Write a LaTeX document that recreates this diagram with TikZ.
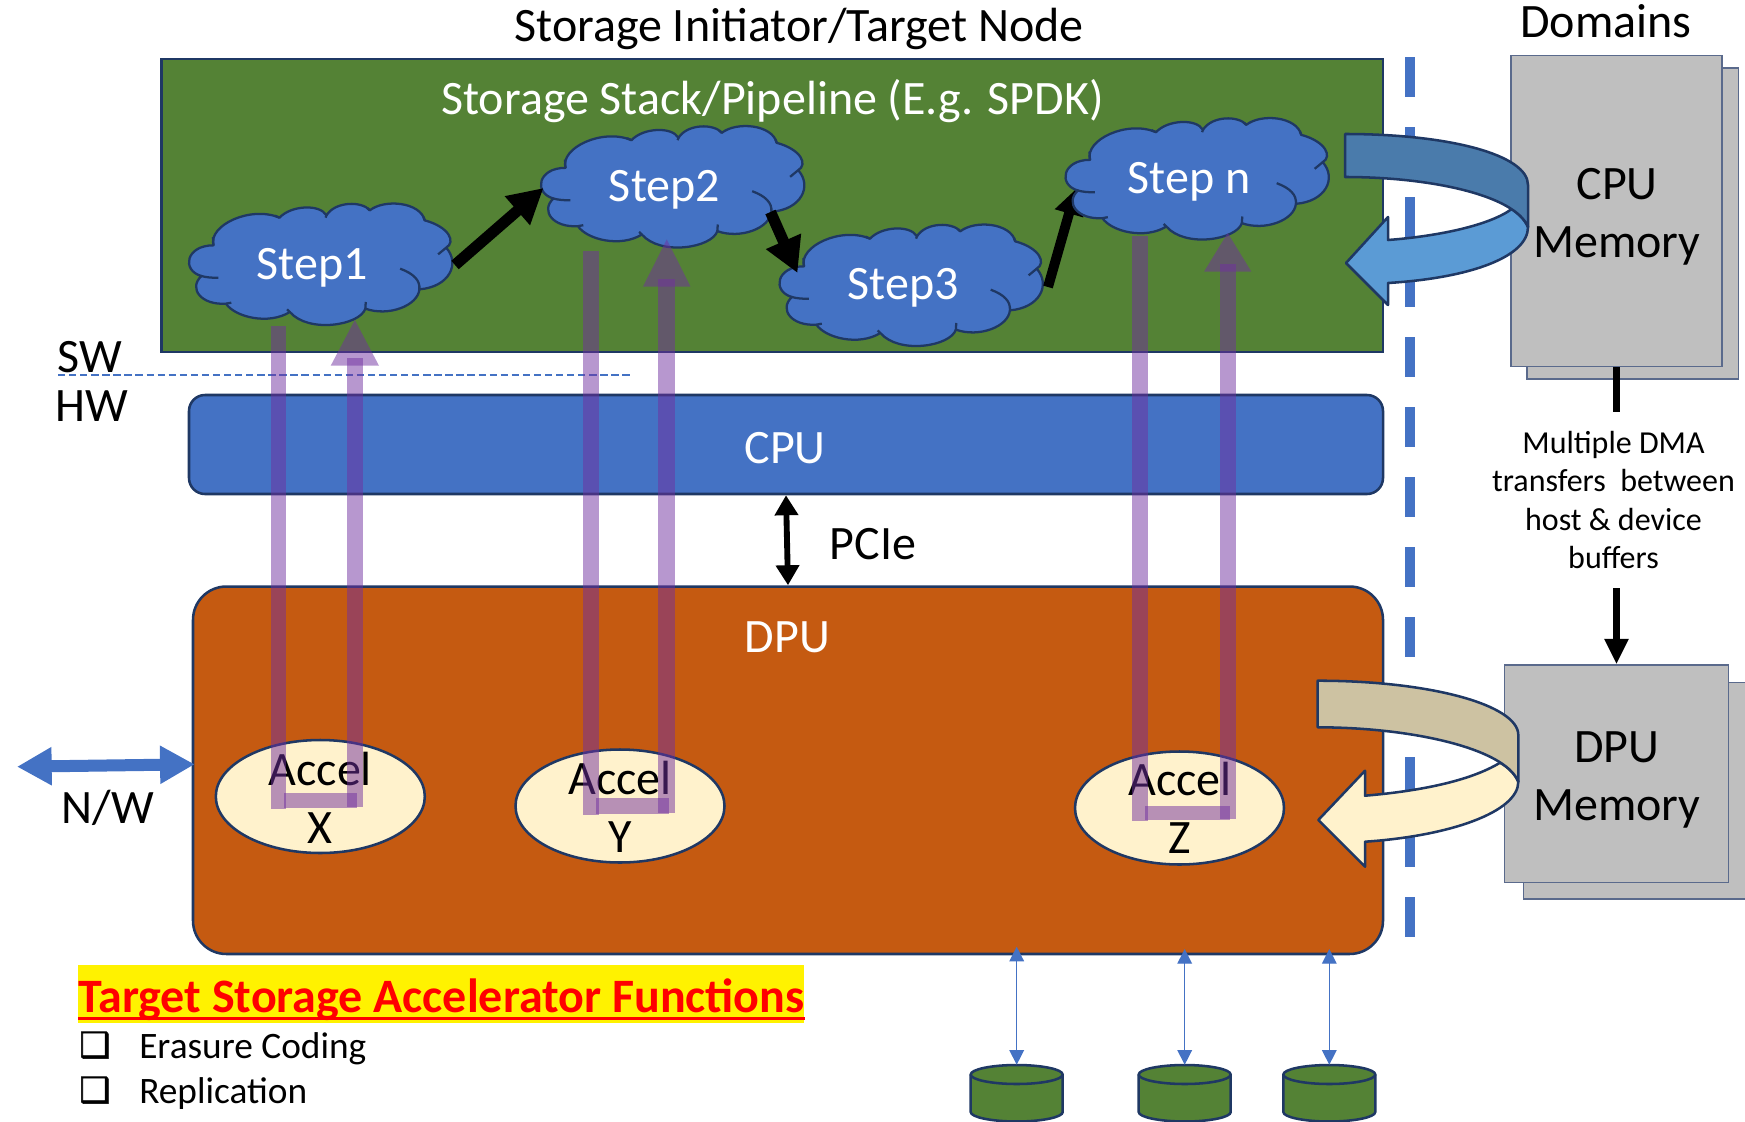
\documentclass[tikz,border=0pt]{standalone}
\usepackage{fontspec}
\setmainfont{Carlito}
\newfontfamily\symfont[FakeBold=1.6]{DejaVu Sans}
\usetikzlibrary{arrows.meta,calc,shapes.geometric}
\definecolor{navy}{HTML}{1F3864}
\definecolor{leaf}{HTML}{548235}
\definecolor{azure}{HTML}{4472C4}
\definecolor{rust}{HTML}{C55A11}
\definecolor{silver}{HTML}{BFBFBF}
\definecolor{cream}{HTML}{FFF2CC}
\definecolor{sand}{HTML}{CDC2A2}
\definecolor{steel}{HTML}{4A7BAB}
\definecolor{sky}{HTML}{5B9BD5}
\definecolor{plum}{HTML}{7030A0}
\definecolor{memline}{HTML}{5A6A8C}
\tikzset{
  big/.style={font=\fontsize{36}{43.5}\selectfont},
  small/.style={font=\fontsize{24}{28.8}\selectfont},
  list/.style={font=\fontsize{28}{34}\selectfont},
  panel/.style={draw=navy,line width=1.9pt},
  memfront/.style={draw=memline,fill=silver,line width=1.1pt},
  band/.style={draw=navy,line width=1.9pt,line join=round},
  pipe/.style={fill=plum,opacity=.5},
  flow/.style={line width=8.4pt,-{Triangle[length=26pt,width=27pt]}},
  flowthin/.style={line width=7.4pt,-{Triangle[length=19pt,width=21pt]}},
  disklink/.style={draw=azure,line width=1pt,{Triangle[length=11pt,width=11pt]}-{Triangle[length=11pt,width=11pt]}},
  plabel/.style={inner sep=0pt,align=center},
  accel/.style={ellipse,draw=navy,fill=cream,line width=1.9pt,minimum width=156.75pt,minimum height=84.75pt,inner sep=0pt},
}
\newcommand{\cloudat}[6]{% name, centre x, centre y, text x, text y, label
  \begin{scope}[shift={(#2,#3)},xscale=.4467,yscale=.3333,shift={(-340,-464)}]
    \draw[fill=azure,draw=navy,line width=1.7pt,line join=round]
      (97,405) .. controls (85,345) and (180,285) .. (245,322)
      .. controls (270,285) and (335,280) .. (350,315)
      .. controls (370,272) and (430,272) .. (447,300)
      .. controls (480,265) and (560,275) .. (570,330)
      .. controls (625,350) and (640,395) .. (618,412)
      .. controls (650,460) and (625,530) .. (558,537)
      .. controls (555,585) and (490,620) .. (437,595)
      .. controls (425,645) and (310,670) .. (268,605)
      .. controls (220,645) and (145,620) .. (125,580)
      .. controls (70,585) and (40,535) .. (70,497)
      .. controls (25,480) and (35,405) .. (97,405) -- cycle;
    \draw[navy,line width=1.7pt]
      (70,497) .. controls (80,501) and (95,503) .. (108,502)
      (125,580) -- (137,577)
      (268,605) -- (262,597)
      (437,595) -- (438,575)
      (515,475) .. controls (545,490) and (560,510) .. (558,537)
      (600,432) -- (618,412)
      (570,330) -- (567,320)
      (447,300) -- (442,293)
      (350,315) -- (348,322)
      (245,322) -- (235,316)
      (97,405) -- (96,380);
  \end{scope}
  \node[big,text=white,plabel] (#1) at (#4,#5) {#6};
}
\newcommand{\uarrow}[9]{%
  \fill[pipe] (#1,#3) rectangle (#2,\ubarL);
  \fill[pipe] (#4,#6) rectangle (#5,\ubarR);
  \fill[pipe] ({#1+13},\ubandT) rectangle ({#5-6},\ubandB);
  \fill[pipe] (#7,\uhead) -- (#8,\uhead) -- ({(#7+#8)/2},#9) -- cycle;
}
\newcommand{\disk}[2]{%
  \node[inner sep=0pt,minimum size=0pt] (#1) at (#2,1065) {};
  \begin{scope}[shift={(#2,1074.5)}]
    \draw[fill=leaf,draw=navy,line width=1.9pt]
      (-46,0) -- (-46,37.5) .. controls (-46,42.7) and (-25,47) .. (0,47)
      .. controls (25,47) and (46,42.7) .. (46,37.5) -- (46,0)
      .. controls (46,-5.2) and (25,-9.5) .. (0,-9.5)
      .. controls (-25,-9.5) and (-46,-5.2) .. (-46,0) -- cycle;
    \draw[navy,line width=1.9pt] (-46,0) .. controls (-46,5.2) and (-25,9.5) .. (0,9.5)
      .. controls (25,9.5) and (46,5.2) .. (46,0);
  \end{scope}
}
\newcommand{\ulined}[1]{\setbox0=\hbox{#1}\rlap{\vrule width\wd0 height -3.6pt depth 6.2pt}\box0}
\begin{document}
\begin{tikzpicture}[x=0.75pt,y=-0.75pt]
\path[use as bounding box] (0,0) rectangle (1745,1121);
\clip (0,0) rectangle (1745,1121);

% dashed separator
\foreach \k in {0,...,12}
  \fill[azure] (1404.7,{57+70*\k}) rectangle (1414.7,{97+70*\k});

% headings
\node[big,plabel] (head) at (799,29) {Storage Initiator/Target Node};
\node[big,plabel,anchor=base] (dom) at (1606,37) {Domains};

% main panels
\node[panel,fill=leaf,minimum width=916.1pt,minimum height=219.75pt,inner sep=0pt] (stack) at (772.25,205.5) {};
\node[big,text=white,plabel] (stacklabel) at (772.5,101) {Storage Stack/Pipeline (E.g. SPDK)};
\node[panel,fill=azure,rounded corners=12pt,minimum width=895.5pt,minimum height=74.25pt,inner sep=0pt] (cpu) at (786,444.5) {};
\node[big,text=white,plabel] (cpulabel) at (785,448) {CPU};
\node[panel,fill=rust,rounded corners=25pt,minimum width=892.5pt,minimum height=275.6pt,inner sep=0pt] (dpu) at (788,770.25) {};
\node[big,text=white,plabel] (dpulabel) at (787.5,637.5) {DPU};

% SW / HW
\node[big,plabel] (sw) at (90,357.5) {SW};
\node[big,plabel] (hw) at (92,406) {HW};
\coordinate (divl) at (58,375);
\coordinate (divr) at (630,375);
\draw[azure,line width=.9pt,dash pattern=on 5.5pt off 2.8pt] (divl) -- (divr);

% PCIe
\draw[line width=4.4pt,{Triangle[length=15pt,width=17pt]}-{Triangle[length=15pt,width=17pt]}] (cpu.south) -- (dpu.north);
\node[big,plabel] (pcie) at (873,544) {PCIe};

% clouds and connectors
\cloudat{s1}{322}{265}{312}{268}{Step1}
\cloudat{s2}{674}{187.5}{664.5}{190}{Step2}
\cloudat{s3}{912.5}{286}{903}{288}{Step3}
\draw[flowthin] ($(s3)+(145,-1)$) -- ($(s3)+(173,-99)$);
\cloudat{sn}{1198.5}{179.5}{1189}{182}{Step n}
\draw[flow] ($(s1)+(143,-3)$) -- ($(s2)+(-121,-2)$);
\draw[flow] ($(s2)+(106,22)$) -- ($(s3)+(-105.5,-15)$);

% accelerators
\node[accel] (ax) at (320.3,796.5) {};
\node[accel] (ay) at (620,806) {};
\node[accel] (az) at (1179.5,808) {};
\node[big,plabel] (axl) at (320.3,798) {Accel\\X};
\node[big,plabel] (ayl) at (620,807) {Accel\\Y};
\node[big,plabel] (azl) at (1180,808) {Accel\\Z};

% memories
\draw[memfront] (1527,68) rectangle (1738.7,379);
\draw[memfront] (1523.3,682.7) rectangle (1760,899);
\node[memfront,minimum width=158.25pt,minimum height=233.25pt,inner sep=0pt] (cpum) at (1616.5,211) {};
\node[memfront,minimum width=168.3pt,minimum height=163pt,inner sep=0pt] (dpum) at (1616.5,773.65) {};
\node[big,plabel] (cpumt) at (1617,217) {CPU\\Memory};
\node[big,plabel] (dpumt) at (1617,779.5) {DPU\\Memory};
\draw[line width=5.6pt,-{Triangle[length=19pt,width=17pt]}] (cpum.south) -- (dpum.north);
\node[small,fill=white,inner sep=0pt,minimum width=186pt,minimum height=132pt,align=center] (dma) at (1613.5,500)
  {Multiple DMA\\transfers\ \ between\\host \& device\\buffers};

% curved block arrows
\draw[band,fill=sky] (1528,227) .. controls (1528,257) and (1470,278) .. (1388,283) -- (1388,305) -- (1346,263) -- (1388,217) -- (1388,240) .. controls (1440,236) and (1490,225) .. (1511.7,209) .. controls (1519,214) and (1525,220) .. (1528,227) -- cycle;
\draw[band,fill=steel] (1345,134) .. controls (1450,134) and (1528,155) .. (1528,185) -- (1528,227) .. controls (1515,195) and (1430,177) .. (1345,177) -- cycle;
\draw[band,fill=cream] (1518.3,781.7) .. controls (1518.3,812) and (1450,836) .. (1365,841.7) -- (1365,866.7) -- (1318.3,820) -- (1365,770.7) -- (1365,795.7) .. controls (1420,791) and (1470,781) .. (1500,762.7) .. controls (1508,767) and (1515,774) .. (1518.3,781.7) -- cycle;
\draw[band,fill=sand] (1317.7,680.7) .. controls (1430,680.7) and (1518.3,705) .. (1518.3,735) -- (1518.3,781.7) .. controls (1505,748) and (1410,727.3) .. (1317.7,727.3) -- cycle;

% purple U arrows
\def\ubarL{809}\def\ubarR{807}\def\ubandT{793}\def\ubandB{808}\def\uhead{365.7}
\uarrow{270.7}{286}{326}{347}{362.7}{357.7}{330.7}{379}{320}
\def\ubarL{814.6}\def\ubarR{813}\def\ubandT{798}\def\ubandB{813.5}\def\uhead{286.7}
\uarrow{582.5}{598.6}{250.7}{658.4}{674.5}{279}{643}{690.5}{239.3}
\def\ubarL{821}\def\ubarR{819}\def\ubandT{806}\def\ubandB{820}\def\uhead{271.7}
\uarrow{1132}{1148}{235.7}{1220}{1236}{264}{1204}{1251.4}{233}

% N/W
\coordinate (nwl) at (17,766.7);
\coordinate (nwr) at ($(dpu.west |- 0,764.3)+(3,0)$);
\draw[azure,line width=9pt,{Triangle[length=26pt,width=27pt]}-{Triangle[length=26pt,width=27pt]}] (nwl) -- (nwr);
\node[big,plabel] (nw) at (108,808) {N/W};

% storage disks
\disk{d1}{1016.7}
\disk{d2}{1184.7}
\disk{d3}{1329.3}
\coordinate (p1) at (1016.7,946.7);
\coordinate (p2) at (1184.7,949);
\coordinate (p3) at (1329.3,949);
\draw[disklink] (p1) -- (d1);
\draw[disklink] (p2) -- (d2);
\draw[disklink] (p3) -- (d3);

% functions list
\fill[yellow] (78,965) rectangle (803.5,1023);
\node[anchor=base west,inner sep=0pt,text=red,font=\fontsize{36}{40}\selectfont\bfseries] (title) at (78,1012) {\ulined{Target Storage Accelerator Functions}};
\node[anchor=base west,inner sep=0pt,font=\fontsize{26}{30}\selectfont\symfont] (c1) at (79,1057) {❑};
\node[anchor=base west,inner sep=0pt,font=\fontsize{26}{30}\selectfont\symfont] (c2) at (79,1102) {❑};
\node[anchor=base west,inner sep=0pt,list] (e1) at (139,1058) {Erasure Coding};
\node[anchor=base west,inner sep=0pt,list] (e2) at (139,1103.7) {Replication};
\end{tikzpicture}
\end{document}
